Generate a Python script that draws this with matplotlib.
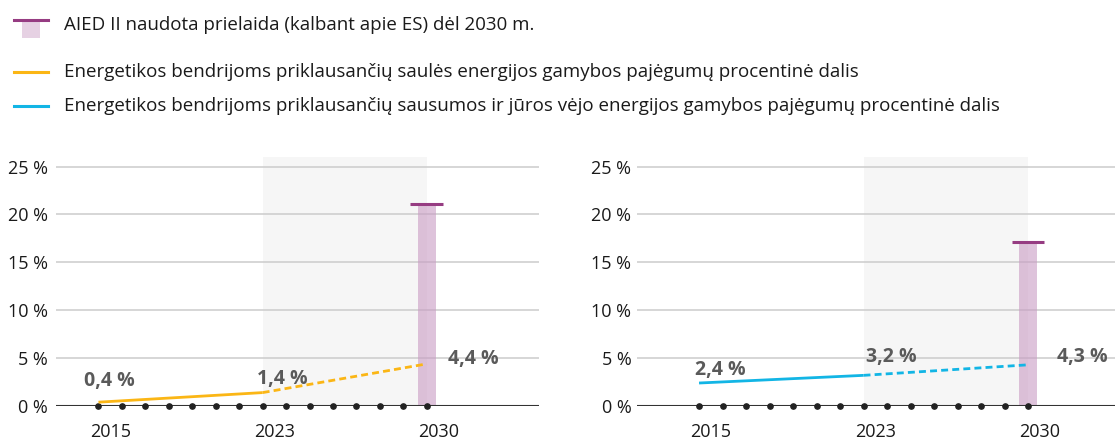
import numpy as np
import matplotlib.pyplot as plt
from matplotlib.patches import Rectangle
from matplotlib.lines import Line2D

plt.rcParams['font.family'] = ['Open Sans', 'DejaVu Sans']

# 15 slots on the time axis, labelled years sit on slots 0, 7 and 14
n_slots = 15
years = ['2015', '2023', '2030']
year_slot = [0, 7, 14]

solar = [0.4, 1.4, 4.4]
wind = [2.4, 3.2, 4.3]
aied_solar = 21.1
aied_wind = 17.1

solar_labels = ['0,4 %', '1,4 %', '4,4 %']
wind_labels = ['2,4 %', '3,2 %', '4,3 %']
yticks = [0, 5, 10, 15, 20, 25]

orange = '#FBB615'
blue = '#12B5E5'
bar_col = '#C99BC3'
cap_col = '#963C82'
txt_grey = '#5A5A5A'

fig = plt.figure(figsize=(11.15, 4.40), dpi=100)
W, H = 1115, 440


def panel(rect, xlim, vals, labels, aied, col, lab_pos, pad):
    ax = fig.add_axes(rect)
    ax.set_xlim(*xlim)
    ax.set_ylim(0, 26)
    for s in ax.spines.values():
        s.set_visible(False)
    ax.set_xticks([])
    ax.set_yticks(yticks)
    ax.set_yticklabels([f'{v} %' for v in yticks], fontsize=13, color='#1a1a1a')
    ax.tick_params(axis='y', length=0, pad=pad)
    for v in yticks[1:]:
        ax.axhline(v, color='#cccccc', lw=1.1, zorder=1)
    # projection period
    ax.axvspan(year_slot[1], year_slot[2], color='#f6f6f6', zorder=0, lw=0)
    # assumption bar with cap
    ax.bar(year_slot[2], aied, width=0.75, color=bar_col, alpha=0.6, zorder=2, lw=0)
    ax.plot([year_slot[2] - 0.7, year_slot[2] + 0.7], [aied, aied], color=cap_col, lw=2.2,
            zorder=3, solid_capstyle='butt')
    ax.axhline(0, color='#333333', lw=1.5, zorder=4)
    ax.plot(np.arange(n_slots), np.zeros(n_slots), 'o', color='#222222', ms=3.8, zorder=5,
            clip_on=False)
    ax.plot(year_slot[:2], vals[:2], color=col, lw=2, zorder=6, solid_capstyle='butt')
    ax.plot(year_slot[1:], vals[1:], color=col, lw=2, ls=(0, (2.5, 1.5)), zorder=6)
    for (dx, dy), t in zip(lab_pos, labels):
        ax.text(dx, dy, t, fontsize=14, fontweight='bold', color=txt_grey,
                ha='center', va='center', zorder=7)
    for x, y in zip(year_slot, years):
        ax.text(x + 0.5, -2.75, y, fontsize=13, ha='center', va='center', color='#1a1a1a')
    return ax


panel([56 / W, 1 - 406 / H, 483 / W, 249 / H], (-1.81, 18.78), solar,
      solar_labels, aied_solar, orange, [(0.47, 2.6), (7.85, 2.8), (16.0, 4.9)], 6)
panel([637 / W, 1 - 406 / H, 478 / W, 249 / H], (-2.64, 17.7), wind,
      wind_labels, aied_wind, blue, [(0.89, 3.75), (8.2, 5.1), (16.3, 5.1)], 4)

# legend drawn in figure coordinates
fig.patches.append(Rectangle((22 / W, 1 - 38 / H), 18 / W, 18 / H, transform=fig.transFigure,
                             color=bar_col, alpha=0.45, lw=0))
fig.lines.append(Line2D([14 / W, 48 / W], [1 - 20 / H] * 2, transform=fig.transFigure,
                        color=cap_col, lw=2.2))
fig.lines.append(Line2D([14 / W, 48 / W], [1 - 72 / H] * 2, transform=fig.transFigure,
                        color=orange, lw=2.2))
fig.lines.append(Line2D([14 / W, 48 / W], [1 - 106 / H] * 2, transform=fig.transFigure,
                        color=blue, lw=2.2))
legend_texts = ['AIED II naudota prielaida (kalbant apie ES) dėl 2030 m.',
                'Energetikos bendrijoms priklausančių saulės energijos gamybos pajėgumų procentinė dalis',
                'Energetikos bendrijoms priklausančių sausumos ir jūros vėjo energijos gamybos pajėgumų procentinė dalis']
for t, y in zip(legend_texts, [25, 72, 106]):
    fig.text(64 / W, 1 - y / H, t, fontsize=13.5, va='center', ha='left', color='#1a1a1a')

fig.savefig('out.png', dpi=100)
